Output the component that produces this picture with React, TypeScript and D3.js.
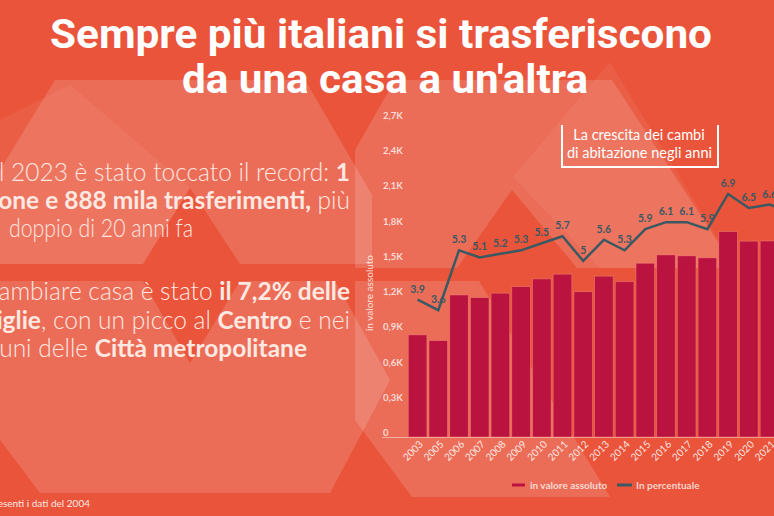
import React from "react";
import * as d3 from "d3";

// ---- data ----
const years = ["2003","2005","2006","2007","2008","2009","2010","2011","2012","2013","2014","2015","2016","2017","2018","2019","2020","2021","2022","2023"];
const moves = [870, 821, 1210, 1187, 1225, 1281, 1347, 1387, 1238, 1370, 1324, 1480, 1551, 1543, 1526, 1750, 1668, 1670, 1700, 1888];
const shares = [3.9, 3.6, 5.3, 5.1, 5.2, 5.3, 5.5, 5.7, 5.0, 5.6, 5.3, 5.9, 6.1, 6.1, 5.9, 6.9, 6.5, 6.6, 6.4, 7.2];
const yTicks = [0, 300, 600, 900, 1200, 1500, 1800, 2100, 2400, 2700];
const titleLines = ["Sempre più italiani si trasferiscono", "da una casa a un'altra"];
const legendLabels = ["in valore assoluto", "In percentuale"];
const boxLines = ["La crescita dei cambi", "di abitazione negli anni"];
const yAxisTitle = "in valore assoluto";
const footnote = "*Non sono presenti i dati del 2004";

const W = 774, H = 516;
const BASE = "#e9543a";
const BAR = "#bb1340";
const LINE = "#3b5963";

// decorative background polygons
const lightShapes: [number, number][][] = [
  [[55, 80], [305, 80], [372, 195], [372, 264], [0, 264], [0, 170]],
  [[395, 80], [612, 80], [735, 268], [355, 268], [355, 150]],
  [[0, 281], [335, 281], [390, 380], [330, 493], [40, 493], [0, 440]],
  [[355, 281], [479, 281], [610, 497], [412, 497], [355, 420]],
];
const lighterShapes: [number, number][][] = [
  [[610, 62], [735, 268], [600, 268], [513, 177]],
  [[0, 120], [70, 85], [190, 188], [143, 264], [0, 264]],
];
const darkShapes: [number, number][][] = [
  [[190, 188], [143, 264], [240, 264]],
  [[512, 190], [457, 268], [577, 268]],
  [[143, 281], [240, 281], [190, 363]],
];

export default function App() {
  const x = d3.scaleBand<string>().domain(years).range([406.2, 406.2 + 20.7 * 20.1]).paddingInner(0.1).paddingOuter(0.1);
  const y = d3.scaleLinear().domain([0, 2700]).range([437, 120]);
  const y2 = d3.scaleLinear().domain([0, 9]).range([437, 120]);
  const cx = (yr: string) => (x(yr) as number) + x.bandwidth() / 2;
  const linePath = d3.line<number>().x((_, i) => cx(years[i])).y((d) => y2(d))(shares) as string;
  const poly = (p: [number, number][]) => p.map((q) => q.join(",")).join(" ");
  const tickFmt = (v: number) => (v === 0 ? "0" : (v / 1000).toFixed(1).replace(".", ",") + "K");

  const bodyFill = "#fde8e2";
  const normal = { fontWeight: 300 } as React.CSSProperties;
  const bold = { fontWeight: 700 } as React.CSSProperties;

  return (
    <svg width={W} height={H} style={{ position: "absolute", left: 0, top: 0, display: "block" }} fontFamily="Lato, sans-serif">
      <rect width={W} height={H} fill={BASE} />
      {lightShapes.map((p, i) => <polygon key={"l" + i} points={poly(p)} fill="#fff" opacity={0.15} />)}
      {lighterShapes.map((p, i) => <polygon key={"ll" + i} points={poly(p)} fill="#fff" opacity={0.06} />)}
      {darkShapes.map((p, i) => <polygon key={"d" + i} points={poly(p)} fill={BASE} />)}

      {/* title */}
      <text x={381} y={48} textAnchor="middle" fontFamily="Roboto, sans-serif" fontWeight={700} fontSize={40} fill="#fff" textLength={662} lengthAdjust="spacingAndGlyphs">{titleLines[0]}</text>
      <text x={385} y={93} textAnchor="middle" fontFamily="Roboto, sans-serif" fontWeight={700} fontSize={40} fill="#fff" textLength={406} lengthAdjust="spacingAndGlyphs">{titleLines[1]}</text>

      {/* left text */}
      <g fontSize={24.5} fill={bodyFill}>
        <text x={350} y={180.5} textAnchor="end"><tspan style={normal}>Nel 2023 è stato toccato il record: </tspan><tspan style={bold}>1</tspan></text>
        <text x={350} y={208.5} textAnchor="end"><tspan style={bold}>milione e 888 mila trasferimenti,</tspan><tspan style={normal}> più</tspan></text>
        <text x={-1} y={237.3} textAnchor="end" style={normal}>del</text>
        <text x={9} y={237.3} style={normal} textLength={184} lengthAdjust="spacingAndGlyphs">doppio di 20 anni fa</text>
        <text x={350} y={300} textAnchor="end"><tspan style={normal}>A cambiare casa è stato </tspan><tspan style={bold}>il 7,2% delle</tspan></text>
        <text x={350} y={328.5} textAnchor="end"><tspan style={bold}>famiglie</tspan><tspan style={normal}>, con un picco al </tspan><tspan style={bold}>Centro</tspan><tspan style={normal}> e nei</tspan></text>
        <text x={307} y={357} textAnchor="end"><tspan style={normal}>comuni delle </tspan><tspan style={bold}>Città metropolitane</tspan></text>
      </g>
      <text x={90} y={507} textAnchor="end" fontSize={10} fill={bodyFill}>{footnote}</text>

      {/* chart */}
      <line x1={382} x2={W} y1={437.5} y2={437.5} stroke="#fff" strokeOpacity={0.45} strokeWidth={1} />
      {yTicks.map((t) => (
        <text key={t} x={383} y={y(t) - 1} fontSize={9.5} fontWeight={700} fill="#fff" fillOpacity={0.75}>{tickFmt(t)}</text>
      ))}
      <text transform={`translate(373,293) rotate(-90)`} textAnchor="middle" fontSize={10} fill="#fff" fillOpacity={0.8}>{yAxisTitle}</text>

      {years.map((yr, i) => (
        <rect key={yr} x={x(yr)} y={y(moves[i])} width={x.bandwidth()} height={437 - y(moves[i])} fill={BAR} stroke="#f7907e" strokeOpacity={0.55} strokeWidth={0.8} />
      ))}
      {years.map((yr) => (
        <text key={"xt" + yr} transform={`translate(${cx(yr) + 6},445) rotate(-45)`} textAnchor="end" fontSize={10} fill="#fff" fillOpacity={0.88}>{yr}</text>
      ))}

      {years.map((yr, i) => (
        <text key={"lb" + yr} x={cx(yr)} y={y2(shares[i]) - 7} textAnchor="middle" fontSize={10.5} fontWeight={700} fill={LINE}>{String(shares[i])}</text>
      ))}
      <path d={linePath} fill="none" stroke={LINE} strokeWidth={2.5} strokeLinejoin="miter" />

      {/* box title */}
      <path d="M562,125 V167 H718 V125" fill="none" stroke="#fff" strokeWidth={2} />
      <text x={639} y={140} textAnchor="middle" fontSize={14.5} fill="#fff">{boxLines[0]}</text>
      <text x={639.5} y={158} textAnchor="middle" fontSize={14.5} fill="#fff">{boxLines[1]}</text>

      {/* legend */}
      <line x1={512} x2={525} y1={485} y2={485} stroke={BAR} strokeWidth={3} />
      <text x={530} y={488.5} fontSize={10} fontWeight={700} fill="#fff" fillOpacity={0.75}>{legendLabels[0]}</text>
      <line x1={617} x2={632} y1={485} y2={485} stroke={LINE} strokeWidth={3} />
      <text x={636} y={488.5} fontSize={10} fontWeight={700} fill="#fff" fillOpacity={0.75}>{legendLabels[1]}</text>
    </svg>
  );
}
